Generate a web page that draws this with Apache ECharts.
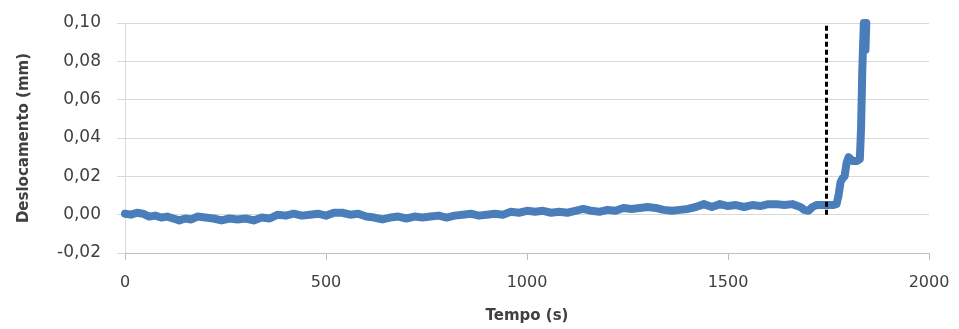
<!DOCTYPE html>
<html>
<head>
<meta charset="utf-8">
<script src="https://cdn.jsdelivr.net/npm/echarts@6/dist/echarts.min.js"></script>
<style>
  html, body { margin: 0; padding: 0; background: #fff; }
  #chart { width: 959px; height: 329px; }
</style>
</head>
<body>
<div id="chart"></div>
<script>
// tempo (s)
var tempo = [0, 15, 30, 45, 60, 75, 90, 105, 120, 135, 150, 165, 180, 200, 220, 240, 260, 280, 300, 320,
  340, 360, 380, 400, 420, 440, 460, 480, 500, 520, 540, 560, 580, 600, 620, 640, 660, 680, 700, 720,
  740, 760, 780, 800, 820, 840, 860, 880, 900, 920, 940, 960, 980, 1000, 1020, 1040, 1060, 1080, 1100, 1120,
  1140, 1160, 1180, 1200, 1220, 1240, 1260, 1280, 1300, 1320, 1340, 1360, 1380, 1400, 1420, 1440, 1460, 1480, 1500, 1520,
  1540, 1560, 1580, 1600, 1620, 1640, 1660, 1680, 1690, 1700, 1710, 1720, 1740, 1760, 1770, 1775, 1780, 1785, 1790, 1795,
  1800, 1805, 1810, 1820, 1828, 1831, 1834, 1836, 1838, 1840, 1842, 1844];

// deslocamento (mm)
var deslocamento = [0.0005, 0.000, 0.001, 0.0005, -0.001, -0.0005, -0.0015, -0.001, -0.002, -0.003, -0.002, -0.0025, -0.001, -0.0015, -0.002, -0.003, -0.002, -0.0025, -0.002, -0.003,
  -0.0015, -0.002, 0.000, -0.0005, 0.0005, -0.0005, 0.000, 0.0005, -0.0005, 0.001, 0.001, 0.000, 0.0005, -0.001, -0.0015, -0.0025, -0.0015, -0.001, -0.002, -0.001,
  -0.0015, -0.001, -0.0005, -0.0015, -0.0005, 0.000, 0.0005, -0.0005, 0.000, 0.0005, 0.000, 0.0015, 0.001, 0.002, 0.0015, 0.002, 0.001, 0.0015, 0.001, 0.002,
  0.003, 0.002, 0.0015, 0.0025, 0.002, 0.0035, 0.003, 0.0035, 0.004, 0.0035, 0.0025, 0.002, 0.0025, 0.003, 0.004, 0.0055, 0.004, 0.0055, 0.0045, 0.005,
  0.004, 0.005, 0.0045, 0.0055, 0.0055, 0.005, 0.0055, 0.004, 0.0025, 0.002, 0.004, 0.005, 0.005, 0.005, 0.0055, 0.010, 0.017, 0.019, 0.020, 0.027,
  0.030, 0.029, 0.028, 0.028, 0.029, 0.045, 0.075, 0.088, 0.100, 0.097, 0.086, 0.100];

// linha tracejada vertical
var marcoTempo = 1745;
var marcoInicio = 0.00;
var marcoFim = 0.10;

var yTicks = [-0.02, 0.00, 0.02, 0.04, 0.06, 0.08, 0.10];
var yTickLabels = ['-0,02', '0,00', '0,02', '0,04', '0,06', '0,08', '0,10'];
var xTickLabels = ['0', '500', '1000', '1500', '2000'];

var serie = tempo.map(function (t, i) { return [t, deslocamento[i]]; });

var chart = echarts.init(document.getElementById('chart'));
var textColor = '#404040';
chart.setOption({
  animation: false,
  grid: { left: 125, right: 30, top: 23, bottom: 74 },
  xAxis: {
    type: 'value',
    min: 0,
    max: 2000,
    interval: 500,
    name: 'Tempo (s)',
    nameLocation: 'middle',
    nameGap: 56,
    nameTextStyle: { fontFamily: 'DejaVu Sans', fontWeight: 'bold', fontSize: 15, color: textColor },
    axisLine: { onZero: false, lineStyle: { color: '#bfbfbf', width: 1 } },
    axisTick: { show: true, length: 7, lineStyle: { color: '#bfbfbf' } },
    splitLine: { show: false },
    axisLabel: {
      fontFamily: 'DejaVu Sans', fontSize: 16, color: textColor, margin: 22,
      formatter: function (v) { var i = v / 500; return xTickLabels[i] !== undefined ? xTickLabels[i] : ''; }
    }
  },
  yAxis: {
    type: 'value',
    min: -0.02,
    max: 0.10,
    interval: 0.02,
    name: 'Deslocamento (mm)',
    nameLocation: 'middle',
    nameGap: 93,
    nameTextStyle: { fontFamily: 'DejaVu Sans', fontWeight: 'bold', fontSize: 15, color: textColor },
    axisLine: { show: true, lineStyle: { color: '#d9d9d9', width: 1 } },
    axisTick: { show: true, length: 8, lineStyle: { color: '#d9d9d9' } },
    splitLine: { lineStyle: { color: '#d9d9d9', width: 1 } },
    axisLabel: {
      fontFamily: 'DejaVu Sans', fontSize: 17, color: textColor, margin: 24,
      formatter: function (v) {
        for (var i = 0; i < yTicks.length; i++) {
          if (Math.abs(yTicks[i] - v) < 1e-9) return yTickLabels[i];
        }
        return '';
      }
    }
  },
  series: [{
    type: 'line',
    data: serie,
    showSymbol: false,
    clip: true,
    lineStyle: { color: '#4a7ebb', width: 8, join: 'round', cap: 'round' },
    markLine: {
      silent: true,
      symbol: ['none', 'none'],
      label: { show: false },
      lineStyle: { color: '#000', type: [5, 3], width: 3 },
      data: [[{ coord: [marcoTempo, marcoInicio] }, { coord: [marcoTempo, marcoFim] }]]
    }
  }]
});
</script>
</body>
</html>
